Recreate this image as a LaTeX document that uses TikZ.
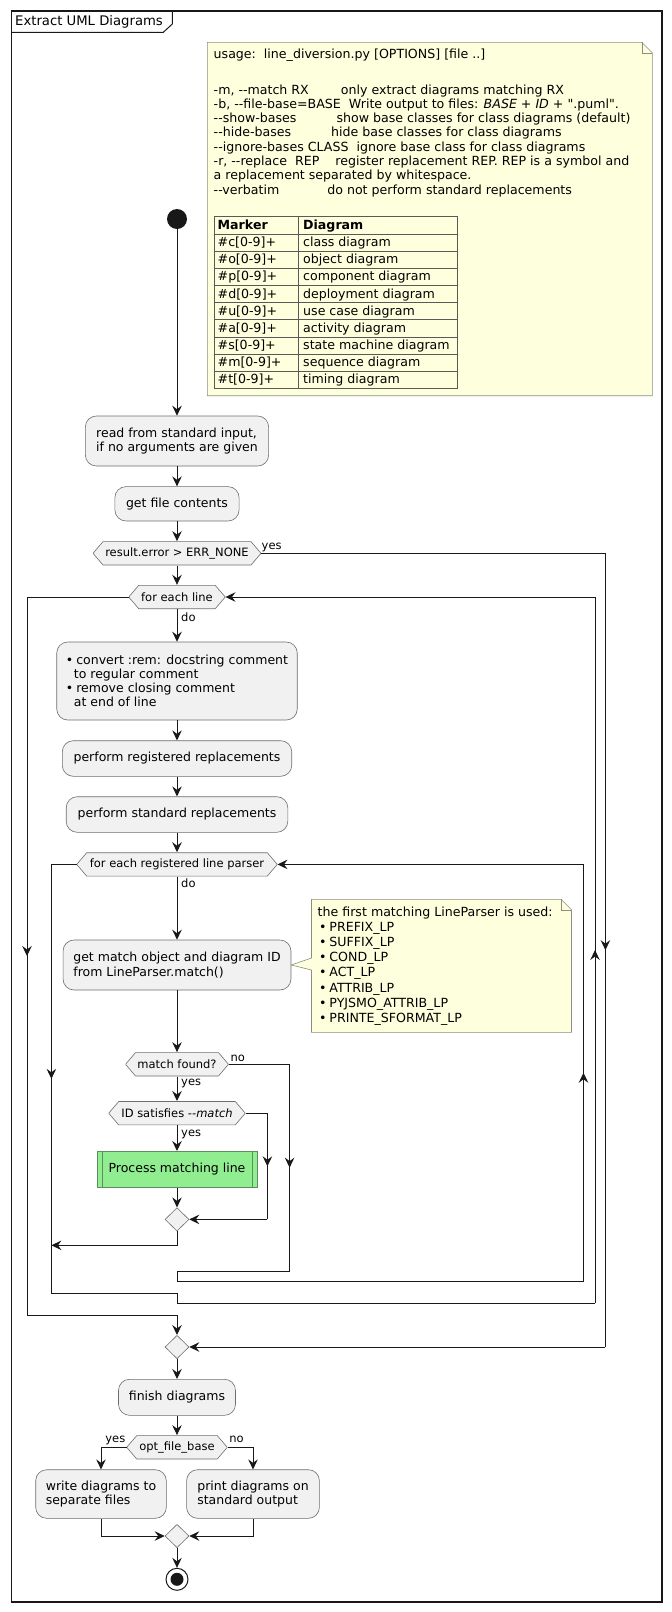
\documentclass[tikz,border=0pt]{standalone}
\usepackage{fontspec}
\setmainfont{DejaVu Sans}
\usetikzlibrary{arrows.meta,shapes.geometric,decorations.markings}

\definecolor{actfill}{HTML}{F1F1F1}
\definecolor{actline}{HTML}{6E6E6E}
\definecolor{notefill}{HTML}{FEFFDD}
\definecolor{noteline}{HTML}{8E8E7E}
\definecolor{procfill}{HTML}{90EE90}
\definecolor{procline}{HTML}{5E8E5E}
\definecolor{flowline}{HTML}{181818}

\newcommand{\dhy}{-\kern0pt-}
\newcommand{\gap}[1]{\hspace*{#1\fontdimen2\font}}
\newcommand{\bul}{\textbullet\hspace{3pt}}
\newcommand{\actfont}{\fontsize{12.5}{14.2}\selectfont}
\newcommand{\notefont}{\fontsize{12.6}{14.3}\selectfont}
\newcommand{\lblfont}{\fontsize{11.5}{13}\selectfont}

\tikzset{
  act/.style={draw=actline, fill=actfill, line width=0.6pt, rounded corners=11pt,
    inner sep=0pt, align=left, font=\actfont},
  proc/.style={draw=procline, fill=procfill, line width=0.6pt, inner sep=0pt, font=\actfont,
    path picture={\draw[procline, line width=0.6pt]
      ([xshift=5pt]path picture bounding box.north west) -- ([xshift=5pt]path picture bounding box.south west)
      ([xshift=-5pt]path picture bounding box.north east) -- ([xshift=-5pt]path picture bounding box.south east);}},
  hexa/.style={inner sep=0pt, minimum height=24pt, font=\lblfont,
    path picture={\filldraw[draw=actline, fill=actfill, line width=0.6pt]
      (path picture bounding box.west)
      -- ([xshift=10pt,yshift=-0.3pt]path picture bounding box.north west)
      -- ([xshift=-10pt,yshift=-0.3pt]path picture bounding box.north east)
      -- (path picture bounding box.east)
      -- ([xshift=-10pt,yshift=0.3pt]path picture bounding box.south east)
      -- ([xshift=10pt,yshift=0.3pt]path picture bounding box.south west) -- cycle;}},
  merge/.style={diamond, draw=actline, fill=actfill, line width=0.6pt,
    minimum width=24pt, minimum height=23.4pt, inner sep=0pt},
  note/.style={fill=notefill, draw=noteline, line width=0.6pt},
  notetext/.style={inner sep=0pt, font=\notefont},
  lbl/.style={inner sep=0pt, font=\lblfont},
  wire/.style={draw=flowline, line width=1pt},
  flow/.style={wire, ->},
  midarrow/.style={postaction=decorate, decoration={markings,
    mark=at position 0.5 with {\arrow{>}}}},
}

\begin{document}
\begin{tikzpicture}[x=1pt, y=-1pt, >={Stealth[length=10pt,width=9.5pt,inset=3.5pt]}]
  \useasboundingbox (0,0) rectangle (672,1612);

  % Marco y titulo
  \draw[flowline, line width=1.4pt] (11.7,11) rectangle (662,1602);
  \draw[flowline, line width=1pt] (11.7,32.3) -- (163.3,32.3) -- (172.3,24) -- (172.3,11);
  \node[anchor=west, inner sep=0pt, font=\fontsize{13.2}{15}\selectfont] (title) at (15,21.5) {Extract UML Diagrams};

  % Nota de uso
  \filldraw[note] (207.3,42.3) -- (641.8,42.3) -- (652.3,52.8) -- (652.3,395.7) -- (207.3,395.7) -- cycle;
  \draw[note, fill=none] (641.8,42.3) -- (641.8,52.8) -- (652.3,52.8);
  \node[notetext, anchor=base west] (usage) at (213.5,58.3) {usage:\gap{2}line\_diversion.py [OPTIONS] [file ..]};
  \node[notetext, anchor=base west] (optmatch) at (213.5,94) {-m, \dhy match RX\gap{8}only extract diagrams matching RX};
  \node[notetext, anchor=base west] (optbase) at (213.5,108.3) {-b, \dhy file-base=BASE\gap{2}Write output to files: \textit{BASE} + \textit{ID} + \textquotedbl.puml\textquotedbl.};
  \node[notetext, anchor=base west] (optshow) at (213.5,122.6) {\dhy show-bases\gap{10}show base classes for class diagrams (default)};
  \node[notetext, anchor=base west] (opthide) at (213.5,136.9) {\dhy hide-bases\gap{10}hide base classes for class diagrams};
  \node[notetext, anchor=base west] (optignore) at (213.5,151.2) {\dhy ignore-bases CLASS\gap{2}ignore base class for class diagrams};
  \node[notetext, anchor=base west] (optrepl) at (213.5,165.5) {-r, \dhy replace\gap{2}REP\gap{4}register replacement REP. REP is a symbol and};
  \node[notetext, anchor=base west] (optrepl2) at (213.5,179.8) {a replacement separated by whitespace.};
  \node[notetext, anchor=base west] (optverb) at (213.5,194.1) {\dhy verbatim\gap{12}do not perform standard replacements};

  % Tabla de marcadores
  \draw[black!65, line width=0.6pt] (214.3,216.7) rectangle (457.7,388.3);
  \draw[black!65, line width=0.6pt] (298.3,216.7) -- (298.3,388.3);
  \foreach \r in {1,...,9}
    \draw[black!65, line width=0.6pt] (214.3,216.7+17.16*\r) -- (457.7,216.7+17.16*\r);
  \node[notetext, anchor=base west] (markerhead) at (217.5,229.4) {\textbf{Marker}};
  \node[notetext, anchor=base west] (kindhead) at (303,229.4) {\textbf{Diagram}};
  \foreach \mk/\kind [count=\r] in {c/class, o/object, p/component, d/deployment, u/use case,
      a/activity, s/state machine, m/sequence, t/timing} {
    \node[notetext, anchor=base west] (marker\r) at (217.5,229.4+17.16*\r) {\#\mk[0-9]+};
    \node[notetext, anchor=base west] (kind\r) at (303,229.4+17.16*\r) {\kind\ diagram};
  }

  % Actividades
  \node[circle, fill=flowline, minimum size=20pt, inner sep=0pt] (start) at (177,219) {};
  \node[act, minimum width=183.3pt, minimum height=50pt] (read) at (177,441) {read from standard input,\\if no arguments are given};
  \node[act, minimum width=124.2pt, minimum height=34.3pt] (getfile) at (177,503.8) {get file contents};
  \node[hexa, minimum width=168pt] (error) at (177,553.3) {result.error > ERR\_NONE};
  \node[hexa, minimum width=96.5pt] (eachline) at (177,597) {for each line};
  \node[act, minimum width=240.5pt, minimum height=78pt] (convert) at (177,681)
    {\bul convert :rem: docstring comment\\\ \ to regular comment\\\bul remove closing comment\\\ \ at end of line};
  \node[act, minimum width=229.4pt, minimum height=35.6pt] (regrep) at (177,758.5) {perform registered replacements};
  \node[act, minimum width=221.6pt, minimum height=35.6pt] (stdrep) at (177,814.5) {perform standard replacements};
  \node[hexa, minimum width=200.6pt] (eachparser) at (177,864.4) {for each registered line parser};
  \node[act, minimum width=227.9pt, minimum height=50pt] (getmatch) at (177,965) {get match object and diagram ID\\from LineParser.match()};
  \node[hexa, minimum width=103pt] (found) at (177,1064.3) {match found?};
  \node[hexa, minimum width=136.6pt] (satisfies) at (177,1113.2) {ID satisfies \textit{\dhy match}};
  \node[proc, minimum width=160pt, minimum height=36pt] (process) at (177,1169.3) {Process matching line};
  \node[merge] (mergeid) at (177,1219.4) {};
  \node[merge] (mergeerr) at (177,1347) {};
  \node[act, minimum width=117pt, minimum height=36pt] (finish) at (177,1397.3) {finish diagrams};
  \node[hexa, minimum width=100.6pt] (filebase) at (177,1447.3) {opt\_file\_base};
  \node[act, minimum width=130.6pt, minimum height=48.6pt] (writediag) at (101,1494) {write diagrams to\\separate files};
  \node[act, minimum width=132.8pt, minimum height=48.6pt] (printdiag) at (253,1494) {print diagrams on\\standard output};
  \node[merge] (mergeout) at (177,1536) {};
  \node[circle, draw=flowline, line width=1pt, fill=white, minimum size=22pt, inner sep=0pt,
    path picture={\fill[flowline] (path picture bounding box.center) circle (6.5pt);}] (stop) at (177,1579.3) {};

  % Nota del analizador
  \filldraw[note] (311.5,899.3) -- (561,899.3) -- (571.5,909.8) -- (571.5,1032.3) -- (311.5,1032.3)
    -- (311.5,970) -- (getmatch.east) -- (311.5,958) -- cycle;
  \draw[note, fill=none] (561,899.3) -- (561,909.8) -- (571.5,909.8);
  \node[notetext, anchor=base west] (lphead) at (317.5,916.5) {the first matching LineParser is used:};
  \foreach \lp [count=\i] in {PREFIX, SUFFIX, COND, ACT, ATTRIB, PYJSMO\_ATTRIB, PRINTE\_SFORMAT}
    \node[notetext, anchor=base west] (lp\i) at (318.8,916.5+15.1*\i) {\bul\lp\_LP};

  % Flujo principal
  \draw[flow] (start) -- (read);
  \draw[flow] (read) -- (getfile);
  \draw[flow] (getfile) -- (error);
  \draw[flow] (error) -- (eachline);
  \draw[flow] (eachline) -- (convert);
  \draw[flow] (convert) -- (regrep);
  \draw[flow] (regrep) -- (stdrep);
  \draw[flow] (stdrep) -- (eachparser);
  \draw[flow] (eachparser) -- (getmatch);
  \draw[flow] (getmatch) -- (found);
  \draw[flow] (found) -- (satisfies);
  \draw[flow] (satisfies) -- (process);
  \draw[flow] (process) -- (mergeid);
  \draw[flow] (mergeerr) -- (finish);
  \draw[flow] (finish) -- (filebase);
  \draw[flow] (filebase.west) -| (writediag.north);
  \draw[flow] (filebase.east) -| (printdiag.north);
  \draw[flow] (writediag.south) |- (mergeout.west);
  \draw[flow] (printdiag.south) |- (mergeout.east);
  \draw[flow] (mergeout) -- (stop);

  % Error: salto al final
  \coordinate (erryes) at (605.4,553.3);
  \coordinate (errdown) at (605.4,1347);
  \draw[wire] (error.east) -- (erryes);
  \draw[wire, midarrow] (erryes) -- (errdown);
  \draw[flow] (errdown) -- (mergeerr.east);

  % ID no cumple
  \coordinate (idno) at (267.4,1113.2);
  \coordinate (idnodown) at (267.4,1219.4);
  \draw[wire] (satisfies.east) -- (idno);
  \draw[wire, midarrow] (idno) -- (idnodown);
  \draw[flow] (idnodown) -- (mergeid.east);

  % break hacia la salida del bucle interior
  \coordinate (breakturn) at (177,1245.3);
  \coordinate (breakend) at (51.4,1245.3);
  \draw[flow] (mergeid.south) -- (breakturn) -- (breakend);

  % Bucle interior: vuelta
  \coordinate (foundno) at (289.6,1064.3);
  \coordinate (foundnodown) at (289.6,1271);
  \coordinate (parserturn) at (177,1281);
  \coordinate (parserback) at (583.5,1281);
  \coordinate (parserbackup) at (583.5,864.4);
  \draw[wire] (found.east) -- (foundno);
  \draw[wire, midarrow] (foundno) -- (foundnodown);
  \draw[wire] (foundnodown) -| (parserturn) -- (parserback);
  \draw[wire, midarrow] (parserback) -- (parserbackup);
  \draw[flow] (parserbackup) -- (eachparser.east);

  % Bucle interior: salida y vuelta del exterior
  \coordinate (parserleft) at (51.4,864.4);
  \coordinate (parserexit) at (51.4,1293.3);
  \coordinate (lineturn) at (177,1303);
  \coordinate (lineback) at (595,1303);
  \coordinate (linebackup) at (595,597);
  \draw[wire] (eachparser.west) -- (parserleft);
  \draw[wire, midarrow] (parserleft) -- (parserexit);
  \draw[wire] (parserexit) -| (lineturn) -- (lineback);
  \draw[wire, midarrow] (lineback) -- (linebackup);
  \draw[flow] (linebackup) -- (eachline.east);

  % Bucle exterior: salida
  \coordinate (lineleft) at (27,597);
  \coordinate (lineexit) at (27,1315);
  \draw[wire] (eachline.west) -- (lineleft);
  \draw[wire, midarrow] (lineleft) -- (lineexit);
  \draw[flow] (lineexit) -| (mergeerr.north);

  % Etiquetas
  \node[lbl, anchor=base west] (erryeslbl) at (261.5,549) {yes};
  \node[lbl, anchor=base west] (linedolbl) at (181,621) {do};
  \node[lbl, anchor=base west] (parserdolbl) at (181,887.3) {do};
  \node[lbl, anchor=base west] (foundnolbl) at (230.5,1061) {no};
  \node[lbl, anchor=base west] (foundyeslbl) at (181,1085.5) {yes};
  \node[lbl, anchor=base west] (idyeslbl) at (181,1136) {yes};
  \node[lbl, anchor=base east] (baseyeslbl) at (125.5,1442.7) {yes};
  \node[lbl, anchor=base west] (basenolbl) at (229.2,1442.7) {no};
\end{tikzpicture}
\end{document}
